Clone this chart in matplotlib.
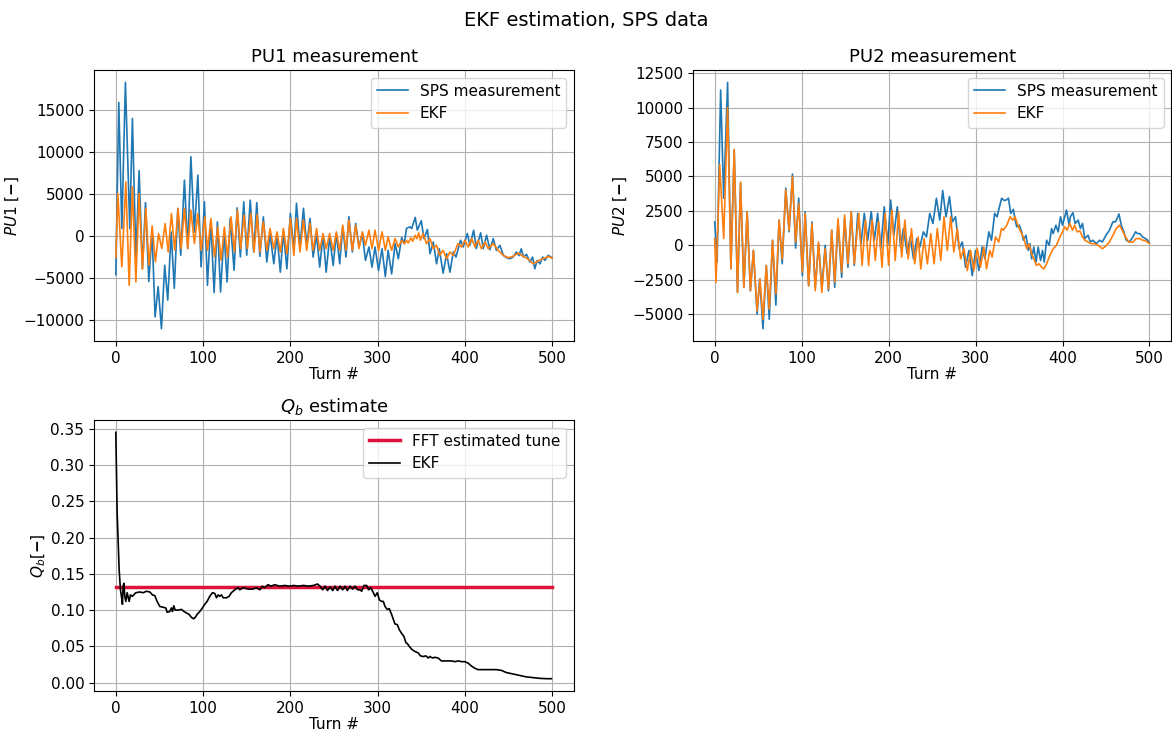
import matplotlib
matplotlib.use("Agg")
import matplotlib.pyplot as plt

# ---- data (turn, value at local extremes) ----
pu1_meas_turn = [0, 3.4, 6.9, 11, 16, 19, 23, 26.7, 30.5, 34, 37.8, 41.5, 45, 48.5, 52.3, 56, 59.5, 63.4,
                 67, 71, 74.4, 78.6, 82.4, 86, 90, 94, 97.7, 101.5, 105, 108.8, 112.6, 116.4, 120, 124,
                 127.5, 131, 135.5, 139, 142.7, 146.6, 150, 154, 158, 161.5, 165, 169, 173, 176.7, 181,
                 184.7, 188.5, 192, 196, 200, 204, 207, 211, 215, 218.7, 222.5, 226, 230, 233.6, 237.4,
                 241, 245, 249, 252.7, 256.5, 260, 263.7, 267, 271, 274.8, 278.6, 282.4, 286, 290, 293.5,
                 297, 301, 305, 308.8, 312, 316, 320, 323.7, 327.5, 330.5, 333, 336.9, 339, 343, 345.4,
                 350, 353, 357, 360, 363.7, 367.5, 370.6, 375, 379, 382.8, 386.6, 389.7, 395, 398, 402.7,
                 405.7, 410, 413, 418, 421, 424.8, 428.6, 432.4, 436, 440, 444, 447.7, 451.5, 455, 459,
                 462, 464.5, 467, 470.6, 474.4, 477.5, 480, 482.8, 486, 489, 491.6, 495.4, 500]
pu1_meas_val = [-4560, 15900, 910, 18300, 910, 14000, -2500, 7800, -3850, 4000, -5400, 500, -9600, -6000,
                -11000, -3450, -7600, 500, -6200, 3300, -2260, 6670, -1470, 9450, 500, 7260, -3650, 4090,
                -5840, 1900, -6700, 1700, -6630, 500, -5440, 2100, -4050, 3370, -2460, 4090, -2260, 4290,
                -1870, 4000, -2400, 2300, -3080, 320, -3280, 120, -4280, 520, -3880, 2720, -1680, 3920,
                -1280, 3320, -1080, 2120, -2480, 120, -3680, 120, -4280, -80, -3480, 320, -3280, 1120,
                -2480, 2320, -1880, 1520, -1280, 320, -2880, -1280, -3680, -1280, -4080, -1480, -4800,
                -1680, -4480, -880, -2680, -160, -880, 920, 1120, 900, 2240, 720, 1840, -280, 800, -2080,
                -680, -3280, -1480, -4400, -2080, -4280, -1880, -2480, -480, -1280, 320, -1080, 720,
                -1480, 400, -1480, 120, -1600, -280, -1680, -1080, -2280, -2560, -2680, -2480, -1880,
                -2300, -1500, -2480, -2160, -3080, -2480, -3880, -2880, -3280, -2480, -2880, -2280, -2560]

pu1_ekf_turn = [0, 2.3, 6.9, 11.5, 15.3, 19, 23, 26.7, 30.5, 34.4, 38, 41.6, 45.4, 49, 52.7, 56.5, 60,
                63.7, 67.5, 71.4, 74.8, 78.6, 82.4, 86, 90, 94, 97.7, 102, 105, 109, 113, 116.8, 120.6,
                124.4, 128, 132, 135.9, 139.3, 143, 147, 150.8, 154.6, 158.4, 162, 165, 169, 173, 176.7,
                181, 184.7, 188.5, 192, 196, 200, 204, 207, 211, 215, 218.7, 222.5, 226, 230, 233.6,
                237.4, 241, 245, 249, 252.7, 256.5, 260, 263.7, 267, 271, 274.8, 278.6, 282.4, 286, 290,
                293.5, 297, 301, 305, 308.8, 312, 316, 320, 323.7, 327.5, 330.5, 333, 335, 338, 340, 343,
                345, 347, 349, 352, 356, 360, 363.7, 367.5, 371, 375, 379, 382.8, 386.6, 392, 396, 400,
                403.8, 407.6, 411.5, 415, 419, 423, 426.7, 432.4, 438, 444, 449.6, 455, 461, 465, 468.7,
                474.4, 478, 482, 486, 491.6, 495.4, 500]
pu1_ekf_val = [-2500, 5080, -3650, 6470, -5840, 5880, -5440, 5080, -3930, 3300, -3450, 1230, -3060, 320,
               -1470, 1500, -1870, 2700, -1670, 3300, -1470, 3300, -1470, 3100, -870, 2700, -1670, 2300,
               -1670, 2100, -2460, 1100, -2860, 1100, -2460, 2300, -1870, 3100, -1470, 2500, -1470, 2700,
               -1870, 2580, -1880, 1720, -1680, 920, -1480, 520, -1880, 920, -2080, 2120, -2280, 2120,
               -1880, 1920, -1680, 1520, -1680, 920, -1680, 320, -1480, 320, -1680, 520, -1680, 1320,
               -1680, 1920, -1680, 1320, -1480, 520, -1080, 720, -1480, 720, -1680, 520, -1680, -80,
               -1680, -280, -1280, -480, -900, -500, -800, -200, -600, 100, -300, 400, -480, 320, -880,
               -280, -1480, -1080, -2280, -1680, -2680, -1880, -2280, -880, -1280, -480, -1280, -280,
               -1280, -480, -1480, -680, -1480, -880, -1680, -2280, -2560, -2400, -2000, -2280, -2480,
               -2880, -3280, -3080, -2800, -2600, -2400, -2600]

pu2_meas_turn = [0, 2.7, 6.8, 10.3, 14.8, 18.6, 22.4, 26.2, 29.7, 33.5, 37.3, 41, 44.5, 48.7, 51.7, 55.5,
                 59.3, 62.7, 66.5, 70.3, 74, 77.6, 81.7, 85.5, 89.4, 93, 96.6, 100.8, 104, 108, 111.8,
                 115.6, 119.4, 123.2, 127, 130.8, 134.6, 138, 141.8, 146, 149.4, 153.2, 157, 160.5, 164.5,
                 168.3, 172, 176, 180, 183.6, 187.4, 191, 195, 199, 202.3, 206, 210, 213.7, 217, 221.4,
                 224.8, 228.6, 232.4, 235.9, 240, 243.5, 247.3, 251, 255, 258.8, 262.2, 266, 270, 273.3,
                 277, 281, 284.7, 288.5, 292.4, 296.2, 300, 303.8, 307.6, 310.7, 315.3, 318.3, 322, 324.8,
                 327.5, 330, 333, 335.5, 337.8, 340.5, 343.5, 345.6, 347.3, 350.4, 353, 355, 358, 360.7,
                 362.5, 364.5, 367, 369.5, 372, 374.8, 377, 379, 381.7, 384.7, 387.4, 389.3, 392.4, 395,
                 397.7, 400, 404.6, 407.6, 409, 412, 414.5, 418, 420.6, 423, 425.6, 429.4, 432, 435, 439,
                 442.7, 445.8, 450, 454, 458, 461, 465, 467.6, 470.6, 473.3, 477, 481, 484, 486.6, 489,
                 492, 495.4, 498, 500]
pu2_meas_val = [1700, -1220, 11270, 3420, 11830, -1700, 6950, -3420, 4510, -3050, 2440, -3300, -370, -5000,
                -2440, -6050, -1460, -5370, 370, -4340, 1830, -1340, 4150, 980, 5170, -200, 3420, -2200,
                2440, -2930, 1700, -3050, 120, -3170, 0, -3300, 1100, -3050, 1700, -2320, 1950, -1590,
                2440, -1460, 2320, 120, 2320, 370, 2440, 370, 2320, -240, 2800, 0, 3290, 730, 2800, -120,
                1220, -610, 610, -980, 490, -120, 980, 610, 2320, 1590, 3420, 1830, 3980, 2070, 3540,
                1710, 2070, -240, 240, -1590, -370, -2200, -370, -1830, -120, -980, 980, 370, 2320, 2070,
                2800, 3420, 3250, 3300, 3420, 2320, 2610, 1830, 1340, 1460, 980, 370, 730, -370, 120,
                -980, -120, -1220, -120, -1100, -370, -1220, 370, 0, 1220, 850, 1460, 980, 2070, 1460,
                2560, 1460, 2070, 2370, 1590, 1830, 1220, 1590, 490, 730, 240, 370, 120, 370, 240, 730,
                1100, 1710, 1710, 2270, 1460, 980, 370, 240, 610, 980, 850, 850, 610, 490, 370, 170]

pu2_ekf_turn = [0, 1.5, 5.7, 10.3, 14.8, 18.6, 22.4, 26.2, 29.7, 33.5, 37.3, 41, 44.5, 48.7, 52, 55.5,
                59.3, 62.7, 66.5, 70.3, 74, 77.6, 81.7, 85.5, 89.4, 93, 96.6, 100.8, 104, 108, 111.8,
                115.6, 119.4, 123.2, 127, 130.8, 134.6, 138, 141.8, 146, 149.4, 153.2, 157, 160.5, 165.6,
                169.5, 173.3, 177, 181, 184.7, 188.5, 192.4, 196, 200, 203.8, 207.6, 211.5, 215, 218.7,
                222.5, 226.3, 230, 234, 237, 240.8, 244.6, 248.5, 252.3, 256, 260, 263.7, 267.5, 271.4,
                275, 279, 282.8, 286.6, 290.5, 294.3, 298, 302, 305.7, 309.5, 312.6, 316.4, 319, 323,
                326.7, 329.8, 332, 335.9, 339.7, 342.7, 345.4, 348, 351, 355, 358.8, 361.5, 364.5, 367,
                370, 373, 376, 378.6, 381.7, 385.5, 389.3, 393, 397, 400, 402.7, 405.3, 408.4, 411.5, 414,
                416.8, 420, 423, 425.6, 429.4, 433, 437, 441, 445.8, 449.6, 454, 458, 461.8, 465.6, 468.7,
                472.5, 476.3, 481, 484.7, 488.5, 492.4, 496, 500]
pu2_ekf_val = [490, -2680, 5860, 490, 10000, -1700, 6950, -3420, 4590, -3050, 2440, -3300, -370, -4760,
               -2440, -5370, -1460, -4640, 370, -3540, 1830, -980, 4030, 1100, 5000, 240, 3050, -1950,
               2320, -2930, 1590, -3300, 240, -3420, -240, -3170, 1100, -2680, 1950, -1950, 2200, -1340,
               2440, -1340, 2320, -1460, 1830, -1460, 1830, -1100, 1710, -1590, 2320, -1460, 2560, -1100,
               2440, -850, 1830, -980, 1220, -1340, 610, -1710, 490, -1340, 850, -1340, 1220, -1100,
               2070, -370, 2070, -490, 1220, -980, -240, -1830, -370, -1830, -240, -1590, -120, -1710,
               -370, -850, 610, 240, 1220, 1100, 1460, 2070, 1830, 2070, 1590, 1100, 610, -240, 100,
               -610, -980, -1460, -1340, -1590, -1710, -1340, -730, -240, 0, 610, 980, 1340, 1100, 1590,
               1100, 1460, 980, 1050, 610, 370, 240, 120, 120, 0, -240, -70, 240, 730, 1220, 1460, 1100,
               610, 240, 240, 490, 490, 370, 320, 120]

qb_turn = [0, 1.5, 2.7, 3.8, 5.3, 6.9, 7.6, 8.4, 9.2, 10.3, 11.5, 13, 15.3, 16.8, 19, 22.9, 27.5, 31.3,
           35, 39, 42, 44.7, 47.3, 50.4, 54.2, 57.3, 58.8, 61.8, 63.7, 64.9, 66.4, 68, 71.4, 75.2, 78.2,
           81, 84, 86.6, 89.3, 91.6, 93, 96.2, 99.2, 101.9, 104.6, 107.6, 110.7, 113.4, 115.3, 117.2,
           119, 121, 123, 126.7, 129.8, 132.4, 136.3, 140, 142, 145.8, 151.5, 157, 161, 165, 168,
           170.6, 174.4, 178, 182, 187.8, 193.5, 199, 203.8, 209, 215, 220.8, 226.5, 231, 234, 237,
           239.8, 242.5, 245.5, 248.6, 251, 254, 257, 260, 262.7, 265.3, 268.4, 271.4, 274, 277, 280,
           281.7, 284.4, 287.4, 289.7, 292, 294.3, 297, 299.6, 302, 304.6, 306.5, 308.4, 311, 313.3,
           316, 319.8, 322.5, 324.8, 327.4, 330, 332.4, 334, 336.2, 339, 342.7, 346.5, 349, 352.2,
           355.2, 358, 359.8, 362.9, 365.5, 369.3, 373, 378.9, 384.6, 388.4, 392.2, 396, 399.8, 403.6,
           407.4, 411.2, 415, 420.8, 428.4, 436, 441.7, 447.4, 455, 462.7, 470.3, 478, 485.5, 493, 499]
qb_val = [0.345, 0.235, 0.193, 0.156, 0.128, 0.115, 0.108, 0.133, 0.137, 0.119, 0.112, 0.124, 0.112,
          0.121, 0.119, 0.124, 0.125, 0.124, 0.126, 0.125, 0.121, 0.120, 0.112, 0.105, 0.104, 0.103,
          0.097, 0.098, 0.103, 0.098, 0.106, 0.100, 0.100, 0.101, 0.098, 0.096, 0.094, 0.090, 0.088,
          0.091, 0.094, 0.098, 0.103, 0.108, 0.112, 0.119, 0.124, 0.123, 0.117, 0.121, 0.119, 0.121,
          0.117, 0.117, 0.119, 0.124, 0.128, 0.131, 0.128, 0.131, 0.129, 0.129, 0.131, 0.128, 0.133,
          0.131, 0.135, 0.133, 0.135, 0.133, 0.134, 0.133, 0.134, 0.133, 0.134, 0.133, 0.134, 0.136,
          0.133, 0.128, 0.133, 0.127, 0.132, 0.127, 0.133, 0.127, 0.133, 0.128, 0.133, 0.127, 0.133,
          0.129, 0.133, 0.128, 0.128, 0.126, 0.134, 0.134, 0.128, 0.131, 0.126, 0.119, 0.124, 0.114,
          0.112, 0.112, 0.105, 0.101, 0.102, 0.094, 0.081, 0.080, 0.073, 0.068, 0.064, 0.055, 0.054,
          0.050, 0.046, 0.043, 0.041, 0.037, 0.036, 0.037, 0.034, 0.036, 0.034, 0.035, 0.034, 0.030,
          0.030, 0.030, 0.029, 0.030, 0.029, 0.029, 0.027, 0.023, 0.020, 0.018, 0.018, 0.018, 0.018,
          0.017, 0.014, 0.012, 0.010, 0.008, 0.007, 0.006, 0.0055, 0.0055]

fft_tune = 0.132
n_turns = [0, 500]

# ---- plotting ----
plt.rcParams["font.size"] = 11
fig = plt.figure(figsize=(11.72, 7.31), dpi=100)
ax1 = fig.add_axes([0.0802, 0.5335, 0.4096, 0.3707])
ax2 = fig.add_axes([0.5913, 0.5335, 0.4080, 0.3707])
ax3 = fig.add_axes([0.0802, 0.0547, 0.4096, 0.3707])

fig.suptitle("EKF estimation, SPS data", fontsize=14, y=0.985)

ax1.plot(pu1_meas_turn, pu1_meas_val, color="C0", lw=1.2, label="SPS measurement")
ax1.plot(pu1_ekf_turn, pu1_ekf_val, color="C1", lw=1.2, label="EKF")
ax1.set_title("PU1 measurement", fontsize=13)
ax1.set_ylabel(r"$PU1$ [$\mathbf{-}$]", labelpad=2)

ax2.plot(pu2_meas_turn, pu2_meas_val, color="C0", lw=1.2, label="SPS measurement")
ax2.plot(pu2_ekf_turn, pu2_ekf_val, color="C1", lw=1.2, label="EKF")
ax2.set_title("PU2 measurement", fontsize=13)
ax2.set_ylabel(r"$PU2$ [$\mathbf{-}$]", labelpad=2)

ax3.plot(n_turns, [fft_tune, fft_tune], color="crimson", lw=2.5, label="FFT estimated tune")
ax3.plot(qb_turn, qb_val, color="black", lw=1.2, label="EKF")
ax3.set_title(r"$Q_b$ estimate", fontsize=13)
ax3.set_ylabel(r"$Q_b [\mathbf{-}]$", labelpad=2)

for ax in (ax1, ax2, ax3):
    ax.set_xlabel("Turn #", labelpad=1)
    ax.grid(True)
    ax.legend(loc="upper right")
    ax.set_xlim(-25, 525)

fig.savefig("out.png", dpi=100)
